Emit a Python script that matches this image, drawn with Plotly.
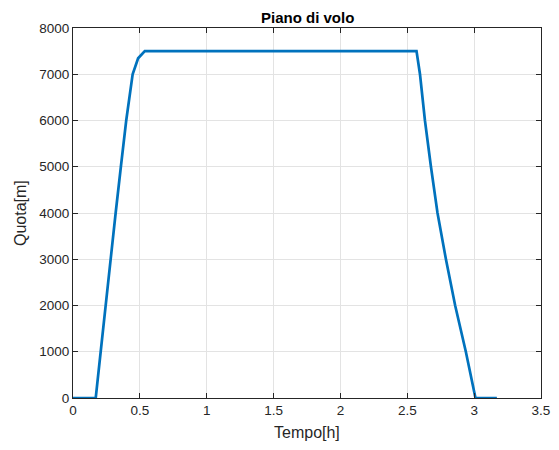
import plotly.graph_objects as go

# Flight profile values
tempo_h = [0, 0.17, 0.207, 0.244, 0.278, 0.319, 0.358, 0.398, 0.446, 0.487, 0.537,
           2.569, 2.595, 2.632, 2.677, 2.726, 2.789, 2.858, 2.938, 3.01, 3.17]
quota_m = [0, 0, 1000, 2000, 3000, 4000, 5000, 6000, 7000, 7345, 7500,
           7500, 7000, 6000, 5000, 4000, 3000, 2000, 1000, 0, 0]

x_ticks = [0, 0.5, 1, 1.5, 2, 2.5, 3, 3.5]
x_tick_labels = ["0", "0.5", "1", "1.5", "2", "2.5", "3", "3.5"]
y_ticks = [0, 1000, 2000, 3000, 4000, 5000, 6000, 7000, 8000]
y_tick_labels = ["0", "1000", "2000", "3000", "4000", "5000", "6000", "7000", "8000"]

title_text = "Piano di volo"
x_title = "Tempo[h]"
y_title = "Quota[m]"

axis_color = "#262626"
grid_color = "#e3e3e3"
font_family = "Liberation Sans, Arial, sans-serif"

# page has an 8px body margin; figure sized so the whole thing fits the window
W, H = 551, 442
L, R, T, B = 65, 18, 20, 52
pw, ph = W - L - R, H - T - B

fig = go.Figure()
fig.add_trace(go.Scatter(
    x=tempo_h, y=quota_m, mode="lines",
    line=dict(color="#0072BD", width=2.7),
    showlegend=False, hoverinfo="skip",
))

common_axis = dict(
    showline=True, linecolor=axis_color, linewidth=1, mirror="ticks",
    ticks="inside", ticklen=5, tickcolor=axis_color, tickwidth=1,
    showgrid=True, gridcolor=grid_color, gridwidth=1,
    zeroline=False, automargin=False,
    tickfont=dict(family=font_family, size=13.5, color=axis_color),
)

fig.update_xaxes(range=[0, 3.5], tickvals=x_ticks, ticktext=x_tick_labels, **common_axis)
fig.update_yaxes(range=[0, 8000], tickvals=y_ticks, ticktext=y_tick_labels, **common_axis)

fig.update_layout(
    width=W, height=H,
    margin=dict(l=L, r=R, t=T, b=B, autoexpand=False),
    paper_bgcolor="white", plot_bgcolor="white",
    annotations=[
        dict(text="<b>" + title_text + "</b>", xref="paper", yref="paper",
             x=0.5, y=1 + 11 / ph, xanchor="center", yanchor="middle", showarrow=False,
             borderpad=0,
             font=dict(family=font_family, size=15, color="#000000")),
        dict(text=x_title, xref="paper", yref="paper",
             x=0.5, y=-35 / ph, xanchor="center", yanchor="middle", showarrow=False,
             font=dict(family=font_family, size=16, color=axis_color)),
        dict(text=y_title, xref="paper", yref="paper", textangle=-90,
             x=-53 / pw, y=0.5, xanchor="center", yanchor="middle", showarrow=False,
             font=dict(family=font_family, size=16, color=axis_color)),
    ],
)

fig.write_html("out.html")
